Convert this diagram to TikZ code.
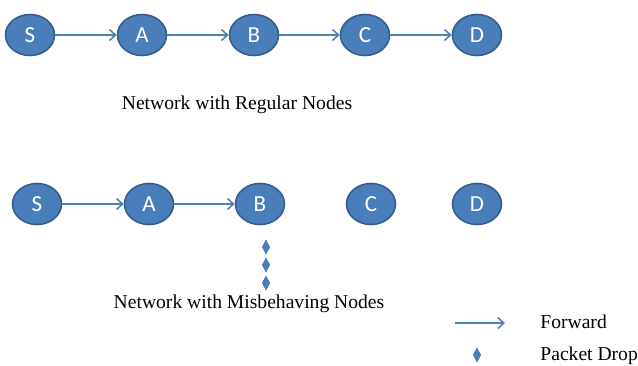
\documentclass[tikz,border=0pt]{standalone}
\usepackage{fontspec}
\setmainfont{Liberation Serif}
\newfontfamily\nodefont{Carlito}
\usetikzlibrary{shapes.geometric,arrows.meta}
\definecolor{nodeblue}{HTML}{4A7EBB}
\definecolor{nodeedge}{HTML}{385D8A}
\definecolor{linkblue}{HTML}{4F81BD}

\begin{document}
\begin{tikzpicture}[
  x=0.5pt, y=-0.5pt,
  netnode/.style={draw=nodeedge, line width=0.8pt, fill=nodeblue, ellipse,
    minimum width=24.5pt, minimum height=20.5pt, inner sep=0pt,
    text=white, font=\nodefont\fontsize{11.5}{12}\selectfont},
  dropmark/.style={diamond, fill=nodeblue, draw=nodeblue, line width=0.3pt,
    inner sep=0pt, minimum width=3.8pt, minimum height=7pt},
  ]
  \tikzset{%
    fwd/.style={-{Straight Barb[length=3pt,width=5.5pt,line width=0.8pt]},
      draw=linkblue, line width=0.75pt},
    caption/.style={font=\fontsize{9.8}{12}\selectfont, inner sep=0pt},
  }
  \useasboundingbox (0,0) rectangle (638,365);
  %Nodes, regular network
  \node[netnode](s1) at (30,35){S};
  \node[netnode](a1) at (142,35){A};
  \node[netnode](b1) at (254,35){B};
  \node[netnode](c1) at (365,35){C};
  \node[netnode](d1) at (477,35){D};
  \node[caption](cap1) at (237,105){Network with Regular Nodes};
  %Nodes, misbehaving network
  \node[netnode](s2) at (37,204){S};
  \node[netnode](a2) at (149,204){A};
  \node[netnode](b2) at (260,204){B};
  \node[netnode](c2) at (371,204){C};
  \node[netnode](d2) at (477,204){D};
  \node[dropmark](p1) at (266,247){};
  \node[dropmark](p2) at (266,265){};
  \node[dropmark](p3) at (266,283){};
  \node[caption](cap2) at (249,304){Network with Misbehaving Nodes};
  %Legend
  \coordinate (l1) at (455,323);
  \coordinate (l2) at (505,323);
  \node[caption, anchor=west](lfwd) at (540,322){Forward};
  \node[dropmark](ldrop) at (477,355){};
  \node[caption, anchor=west](lpd) at (540,356){Packet Drop};
  %Lines
  \path
    (s1) edge[fwd](a1)
    (a1) edge[fwd](b1)
    (b1) edge[fwd](c1)
    (c1) edge[fwd](d1)
    (s2) edge[fwd](a2)
    (a2) edge[fwd](b2)
    (l1) edge[fwd](l2)
    ;
\end{tikzpicture}
\end{document}
